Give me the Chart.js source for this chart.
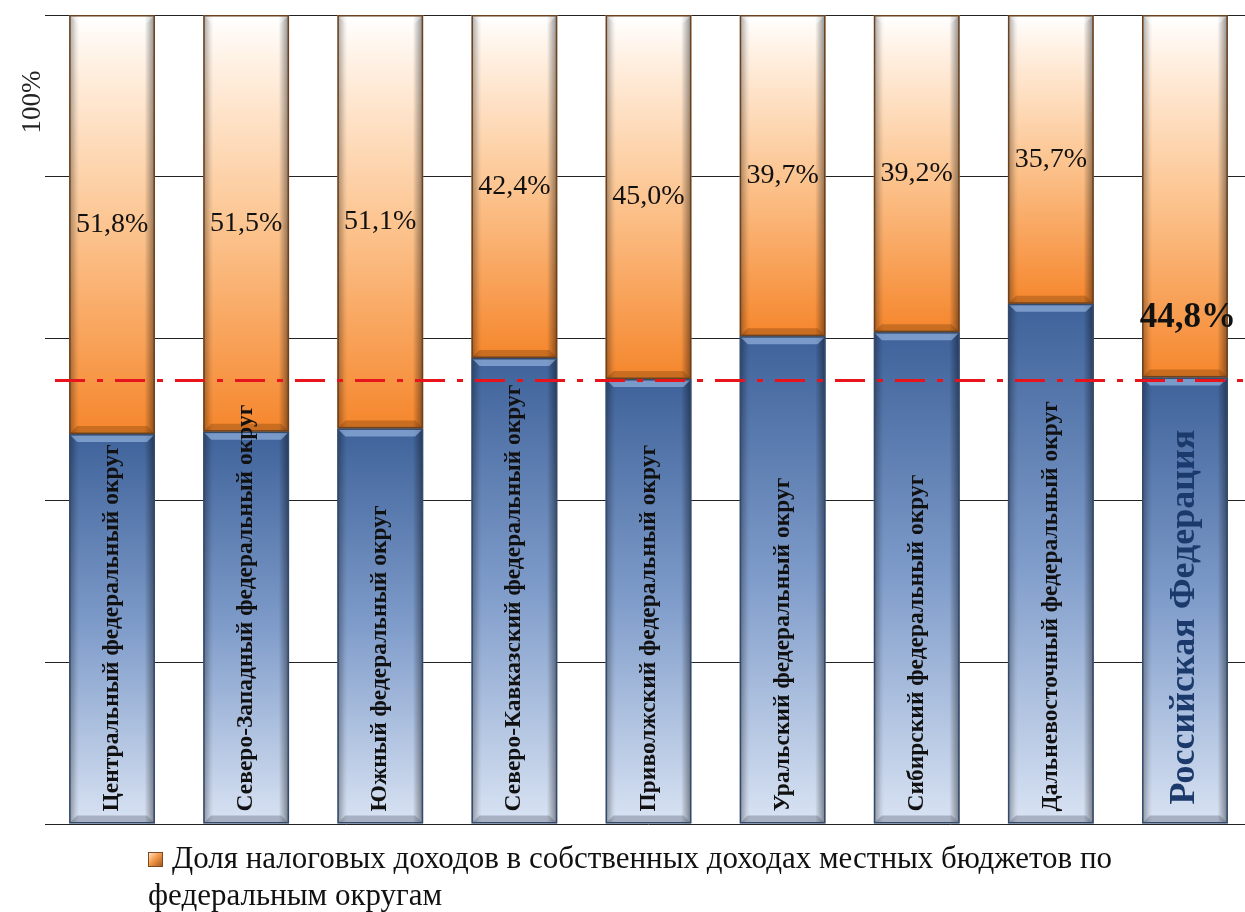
<!DOCTYPE html>
<html>
<head>
<meta charset="utf-8">
<script src="https://cdn.jsdelivr.net/npm/chart.js@4.4.1/dist/chart.umd.min.js"></script>
<style>
    html, body { margin: 0; padding: 0; background: #fff; overflow: hidden; }
    #wrap { position: absolute; left: 0; top: 0; width: 1262px; height: 840px; }
    #legend {
        position: absolute; left: 148px; top: 839px; width: 1060px;
        font-family: "Liberation Serif", "Times New Roman", serif;
        font-size: 31px; line-height: 37px; color: #111;
    }
    #legend .box {
        display: inline-block; width: 15px; height: 15px; margin-right: 9px;
        vertical-align: 1px; box-sizing: border-box; border: 1px solid #7a4a22;
        background: linear-gradient(135deg, #fde2c4 0%, #f59a4a 45%, #a85a1e 100%);
    }
</style>
</head>
<body>
<div id="wrap"><canvas id="chart" width="1262" height="840"></canvas></div>
<div id="legend"></div>
<script>
// Федеральные округа + итог по РФ
const districts = [
    "Центральный федеральный округ",
    "Северо-Западный федеральный округ",
    "Южный федеральный округ",
    "Северо-Кавказский федеральный округ",
    "Приволжский федеральный округ",
    "Уральский федеральный округ",
    "Сибирский федеральный округ",
    "Дальневосточный федеральный округ",
    "Российская Федерация"
];

// Доля налоговых доходов, %
const taxShare = [51.8, 51.5, 51.1, 42.4, 45.0, 39.7, 39.2, 35.7, 44.8];
// Остальная часть собственных доходов, %
const otherShare = [48.2, 48.5, 48.9, 57.6, 55.0, 60.3, 60.8, 64.3, 55.2];

const yTicks = [0, 20, 40, 60, 80, 100];
const legendLines = ["Доля налоговых доходов в собственных доходах местных бюджетов по", "федеральным округам"];
const axisTitle = "100%";

const totalIndex = districts.length - 1; // РФ - last bar
const averageLevel = otherShare[totalIndex]; // red line sits on the RF split

const serif = '"Liberation Serif", "Times New Roman", serif';

function formatPct(v) {
    return v.toFixed(1).replace('.', ',') + '%';
}

function orangeFill(ctx) {
    const chart = ctx.chart;
    if (!chart.chartArea || ctx.type !== 'data') return '#F79646';
    const y = chart.scales.y;
    const top = y.getPixelForValue(100);
    const base = y.getPixelForValue(otherShare[ctx.dataIndex]);
    const g = chart.ctx.createLinearGradient(0, top, 0, base);
    g.addColorStop(0, '#FFFFFF');
    g.addColorStop(0.12, '#FFF0E2');
    g.addColorStop(0.5, '#FCC591');
    g.addColorStop(1, '#F5862C');
    return g;
}

function blueFill(ctx) {
    const chart = ctx.chart;
    if (!chart.chartArea || ctx.type !== 'data') return '#4F81BD';
    const y = chart.scales.y;
    const top = y.getPixelForValue(otherShare[ctx.dataIndex]);
    const base = y.getPixelForValue(0);
    const g = chart.ctx.createLinearGradient(0, top, 0, base);
    g.addColorStop(0, '#3E629A');
    g.addColorStop(0.5, '#7F9CCA');
    g.addColorStop(1, '#D9E3F3');
    return g;
}

// bevel look, average line and all text labels
const decorPlugin = {
    id: 'decor',
    afterDatasetsDraw(chart) {
        const ctx = chart.ctx;
        const area = chart.chartArea;
        const yScale = chart.scales.y;

        // bevel + borders
        chart.data.datasets.forEach((ds, di) => {
            const meta = chart.getDatasetMeta(di);
            const edge = di === 0 ? '#344a6c' : '#6b4220';
            meta.data.forEach((bar) => {
                const p = bar.getProps(['x', 'y', 'base', 'width'], true);
                const l = p.x - p.width / 2, r = p.x + p.width / 2;
                const t = Math.min(p.y, p.base), b = Math.max(p.y, p.base);
                const bv = 8;
                ctx.save();
                ctx.beginPath();
                ctx.rect(l, t, r - l, b - t);
                ctx.clip();
                const side = ctx.createLinearGradient(l, 0, r, 0);
                side.addColorStop(0, 'rgba(0,0,0,0.35)');
                side.addColorStop(0.09, 'rgba(0,0,0,0.05)');
                side.addColorStop(0.12, 'rgba(0,0,0,0)');
                side.addColorStop(0.88, 'rgba(0,0,0,0)');
                side.addColorStop(0.91, 'rgba(0,0,0,0.12)');
                side.addColorStop(1, 'rgba(0,0,0,0.45)');
                ctx.fillStyle = side;
                ctx.fillRect(l, t, r - l, b - t);
                // top highlight
                ctx.beginPath();
                ctx.moveTo(l, t); ctx.lineTo(r, t);
                ctx.lineTo(r - bv, t + bv); ctx.lineTo(l + bv, t + bv);
                ctx.closePath();
                ctx.fillStyle = di === 0 ? 'rgba(170,200,240,0.55)' : 'rgba(255,255,255,0.35)';
                ctx.fill();
                // bottom shade
                ctx.beginPath();
                ctx.moveTo(l, b); ctx.lineTo(r, b);
                ctx.lineTo(r - bv, b - bv); ctx.lineTo(l + bv, b - bv);
                ctx.closePath();
                ctx.fillStyle = di === 0 ? 'rgba(80,90,110,0.35)' : 'rgba(120,60,10,0.35)';
                ctx.fill();
                ctx.restore();
                ctx.strokeStyle = edge;
                ctx.lineWidth = 1.5;
                ctx.strokeRect(l + 0.75, t + 0.75, r - l - 1.5, b - t - 1.5);
            });
        });

        // red dash-dot line just under the RF split
        const yAvg = yScale.getPixelForValue(averageLevel) + 3;
        ctx.save();
        ctx.strokeStyle = '#E8141B';
        ctx.lineWidth = 3;
        ctx.setLineDash([30, 12, 6, 12]);
        ctx.beginPath();
        ctx.moveTo(area.left + 10, yAvg);
        ctx.lineTo(chart.width, yAvg);
        ctx.stroke();
        ctx.restore();

        // orange value labels
        const metaTop = chart.getDatasetMeta(1);
        metaTop.data.forEach((bar, i) => {
            const p = bar.getProps(['x', 'y', 'base'], true);
            ctx.save();
            ctx.textAlign = 'center';
            ctx.textBaseline = 'middle';
            ctx.fillStyle = '#111';
            if (i === totalIndex) {
                ctx.font = 'bold 35px ' + serif;
                ctx.fillText(formatPct(taxShare[i]), p.x + 3, p.base - 59);
            } else {
                ctx.font = '28px ' + serif;
                ctx.fillText(formatPct(taxShare[i]), p.x, (p.y + p.base) / 2);
            }
            ctx.restore();
        });

        // vertical category names inside the blue bars
        const metaBottom = chart.getDatasetMeta(0);
        metaBottom.data.forEach((bar, i) => {
            const p = bar.getProps(['x', 'base'], true);
            ctx.save();
            ctx.translate(p.x, p.base - (i === totalIndex ? 19 : 12));
            ctx.rotate(-Math.PI / 2);
            ctx.textAlign = 'left';
            ctx.textBaseline = 'middle';
            if (i === totalIndex) {
                ctx.font = 'bold 36px ' + serif;
                ctx.fillStyle = '#1B3A6B';
            } else {
                ctx.font = 'bold 23.5px ' + serif;
                ctx.fillStyle = '#111';
            }
            ctx.fillText(districts[i], 0, 0);
            ctx.restore();
        });

        // axis caption at the top left
        ctx.save();
        ctx.translate(33, 102);
        ctx.rotate(-Math.PI / 2);
        ctx.textAlign = 'center';
        ctx.textBaseline = 'middle';
        ctx.font = '27px ' + serif;
        ctx.fillStyle = '#222';
        ctx.fillText(axisTitle, 0, 0);
        ctx.restore();
    }
};

// legend under the chart (only the orange series is listed)
const legendEl = document.getElementById('legend');
legendEl.innerHTML = '<span class="box"></span>' + legendLines.join('<br>');

new Chart(document.getElementById('chart').getContext('2d'), {
    type: 'bar',
    data: {
        labels: districts,
        datasets: [
            {
                label: 'Прочие собственные доходы',
                data: otherShare,
                backgroundColor: blueFill,
                borderWidth: 0,
                categoryPercentage: 1,
                barPercentage: 0.64
            },
            {
                label: legendLines.join(' '),
                data: taxShare,
                backgroundColor: orangeFill,
                borderWidth: 0,
                categoryPercentage: 1,
                barPercentage: 0.64
            }
        ]
    },
    options: {
        responsive: false,
        animation: false,
        layout: { padding: { left: 45, right: 10, top: 15, bottom: 16 } },
        plugins: {
            legend: { display: false },
            tooltip: { enabled: false }
        },
        scales: {
            x: {
                stacked: true,
                display: false
            },
            y: {
                stacked: true,
                min: 0,
                max: 100,
                afterBuildTicks: (scale) => {
                    scale.ticks = yTicks.map(v => ({ value: v }));
                },
                ticks: { display: false },
                border: { display: false },
                grid: { color: '#222', lineWidth: 1, drawTicks: false }
            }
        }
    },
    plugins: [decorPlugin]
});
</script>
</body>
</html>
